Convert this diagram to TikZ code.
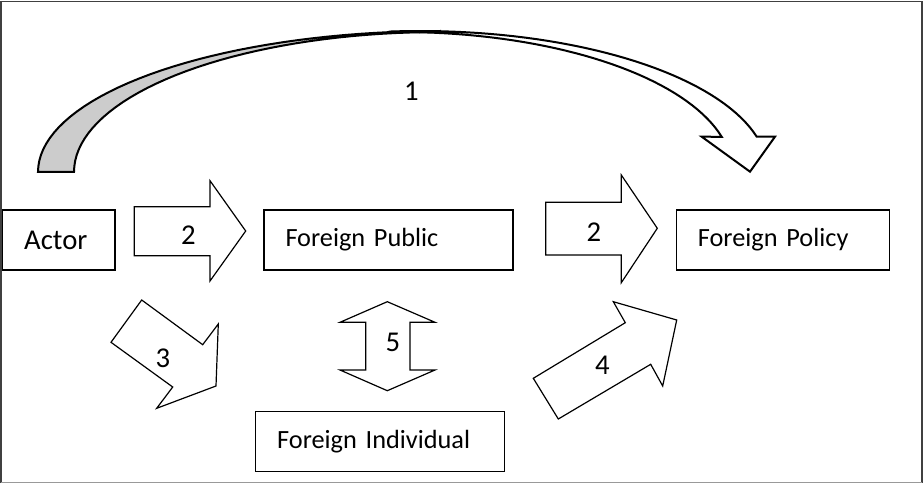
\documentclass[tikz,border=0pt]{standalone}
\usepackage{fontspec}
\setmainfont{Carlito}
\begin{document}
\begin{tikzpicture}[x=1pt,y=-1pt,line join=miter,
    every node/.style={inner sep=0pt},
    box/.style={draw,line width=1.4pt,inner xsep=21.5pt,align=left,minimum height=60pt,anchor=north west,font=\fontsize{26.3}{30}\selectfont},
    blockarrow/.style={draw,fill=white,line width=1.2pt},
    bendarrow/.style={draw,line width=2pt},
    num/.style={font=\fontsize{28.7}{32}\selectfont}]
    \useasboundingbox (0,0) rectangle (924,484);
    % frame
    \draw[black!75,line width=1.3pt] (1,483) -- (1,1.5) -- (922,1.5) -- (922,483);
    \draw[black!40,line width=1.3pt] (1,482.6) -- (922,482.6);
    % boxes
    \node[box,text width=69.3pt,font=\fontsize{28.7}{32}\selectfont] (actor) at (2,209.3) {Actor};
    \node[box,text width=206pt] (public) at (263.3,209.3) {Foreign Public};
    \node[box,text width=170pt] (policy) at (675.7,209.3) {Foreign Policy};
    \node[box,text width=206pt] (indiv) at (255,410.7) {Foreign Individual};
    % curved arrow 1
    \filldraw[bendarrow,fill=black!20]
      plot[domain=180:90,samples=40,variable=\t] ({440+402*cos(\t)},{172-141*sin(\t)})
      -- plot[domain=90:180,samples=40,variable=\t] ({440+366*cos(\t)},{172-140*sin(\t)}) -- cycle;
    \filldraw[bendarrow,fill=white]
      plot[domain=95:14.5,samples=40,variable=\t] ({420+347.8*cos(\t)},{172-141*sin(\t)})
      -- (775,136.7) -- (750,171.7) -- (701.7,136.7)
      -- plot[domain=14.56:92,samples=40,variable=\t] ({400+332.4*cos(\t)},{172-140*sin(\t)}) -- cycle;
    \node[num] (l1) at (411.5,90.8) {1};
    % arrows 2
    \draw[blockarrow] (134.3,206.7) -- (210,206.7) -- (210,180.7) -- (245.7,231) -- (210,281) -- (210,255.7) -- (134.3,255.7) -- cycle;
    \node[num] (l2a) at (188.3,235.5) {2};
    \draw[blockarrow] (545.7,202.3) -- (621.3,202.3) -- (621.3,175) -- (657.3,228.3) -- (621.3,282.7) -- (621.3,255) -- (545.7,255) -- cycle;
    \node[num] (l2b) at (594,232.5) {2};
    % arrow 3
    \draw[blockarrow] (141.7,300) -- (202.7,344.7) -- (218.3,324) -- (216,386) -- (156.7,408.3) -- (172.7,387) -- (111,342.3) -- cycle;
    \node[num] (l3) at (163,358) {3};
    % arrow 5
    \draw[blockarrow] (387.3,301.7) -- (435,322.3) -- (410,322.3) -- (410,370) -- (435,370) -- (387.3,390.7) -- (340,370) -- (365.7,370) -- (365.7,322.3) -- (340,322.3) -- cycle;
    \node[num] (l5) at (392.8,342.5) {5};
    % arrow 4
    \draw[blockarrow] (533.3,378.3) -- (558.3,419) -- (650.7,364.3) -- (662.7,386) -- (676.7,320) -- (613.3,301.7) -- (625.3,322.7) -- cycle;
    \node[num] (l4) at (602.5,365.3) {4};
\end{tikzpicture}
\end{document}
